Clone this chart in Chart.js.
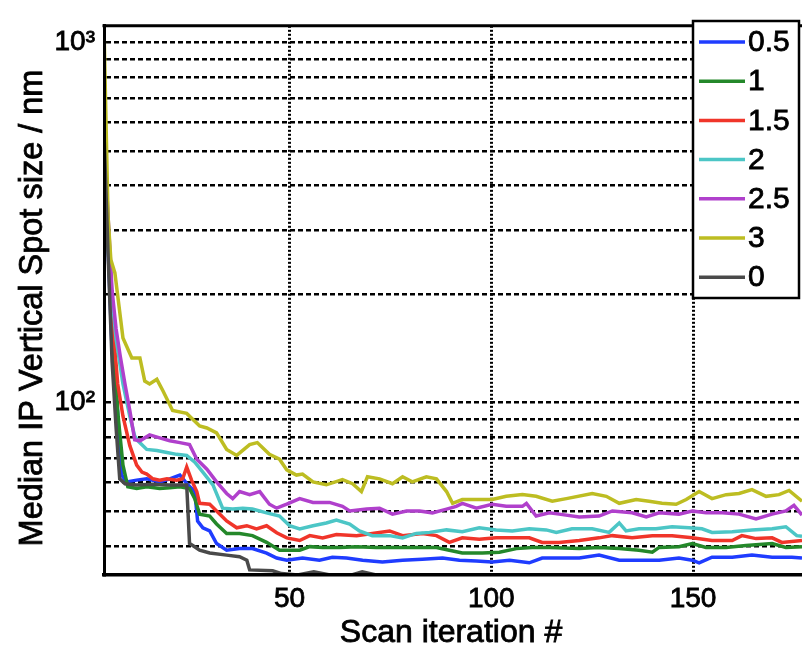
<!DOCTYPE html>
<html>
<head>
<meta charset="utf-8">
<script src="https://cdn.jsdelivr.net/npm/chart.js@4.4.1/dist/chart.umd.min.js"></script>
<style>
  html, body { margin: 0; padding: 0; background: #fff; }
  #wrap { width: 802px; height: 650px; position: relative; }
</style>
</head>
<body>
<div id="wrap"><canvas id="c" width="802" height="650"></canvas></div>
<script>
// ---- Data ----
const seriesLabels = ['0.5', '1', '1.5', '2', '2.5', '3', '0'];
const seriesColors = ['#1f3cff', '#24882a', '#f0352a', '#4cc6c6', '#b040cc', '#bdbd22', '#4a4a4a'];

const s05 = [[4,540],[5,270],[6,140],[7.2,100],[8.4,62.9],[9.6,60.2],[12.1,60.9],[14.6,61.4],[17.8,60.2],[20.3,61.4],[22.8,62.9],[24.8,59.1],[26.5,56.6],[27.2,46.9],[28.5,44.9],[30.2,44.0],[31.9,40.6],[34.4,38.9],[37.6,39.3],[40.8,39.3],[44.3,38.2],[46.8,37.0],[49.3,36.5],[53.2,37.0],[57.4,36.5],[60.6,37.2],[64.1,37.0],[68.1,36.5],[73,36.1],[78,36.5],[82.9,36.7],[87.9,37.0],[92.1,36.5],[96.3,36.3],[100.2,36.1],[104.5,36.5],[109.4,35.9],[112.6,37.0],[116.8,37.0],[121.8,37.0],[126.7,37.7],[131.7,36.5],[136.6,36.5],[141.6,36.5],[146.5,37.0],[149.8,36.5],[151.5,35.9],[154.7,37.2],[159.7,37.2],[164.6,37.7],[169.6,37.2],[174.5,37.2],[177,37.0]];

const s1 = [[4,540],[5,280],[6,155],[7,110],[7.5,91.6],[8.7,67],[9.9,58.4],[12.1,57.7],[14.6,58.4],[17.8,57.7],[20.3,58],[22.8,58.4],[25.2,57.7],[26.5,54.1],[27.7,49.0],[30.2,48.4],[31.9,46.0],[34.4,43.3],[37.6,43.3],[40.8,42.7],[44.3,40.9],[47.5,38.9],[50,38.9],[52.5,38.9],[55,39.8],[58.2,39.6],[62.4,39.6],[66.6,39.8],[71.5,39.6],[76.5,39.6],[81.4,39.6],[86.4,39.6],[89.6,38.9],[92.8,38.2],[97.8,38.2],[102,38.4],[106.2,39.3],[110.1,39.6],[114.4,39.6],[121.8,39.3],[126.7,39.6],[131.7,39.3],[136.6,38.9],[139.9,38.4],[141.6,39.6],[146.5,39.8],[149.8,40.6],[153.2,39.6],[158.2,39.6],[163.1,40.1],[169.6,40.6],[173,39.6],[177,39.8]];

const s15 = [[4,540],[5,300],[6,175],[7.4,112.6],[8.7,91.6],[10.4,75.9],[12.1,67],[13.4,64.1],[14.6,63.3],[16.1,61.4],[17.8,60.9],[19.6,61.4],[22,60.9],[23.5,61.4],[24.5,66.2],[25.7,60.9],[27,56.6],[27.7,52.5],[30.2,52.2],[31.9,50],[34.4,46.9],[36.9,44.9],[39.4,45.5],[41.8,44.6],[44.3,45.5],[46.8,43.5],[49.3,42.1],[52.5,41.4],[55,42.7],[58.2,42.1],[61.6,43.0],[66.6,42.7],[70.5,43.3],[74.8,44.0],[78,42.7],[82.9,43.3],[86.4,42.7],[89.6,40.9],[92.8,42.1],[97,41.7],[101.2,42.1],[106.2,42.1],[109.4,42.1],[112.6,40.9],[116.8,40.9],[121.8,41.4],[126.7,42.1],[130,42.7],[134.9,42.1],[139.9,42.7],[144.8,42.7],[149.8,42.1],[154.7,41.4],[159.7,41.4],[162.1,42.7],[165.6,41.9],[169.6,42.1],[172,40.9],[177,41.4]];

const s2 = [[4,550],[5,320],[6,195],[7,150],[8.7,112.6],[10.4,91.6],[11.6,80.8],[12.4,78.3],[14.6,74.1],[17.1,73.6],[19.6,72.7],[22,71.8],[24.5,71.3],[26.5,68.3],[28.5,64.1],[31,59.1],[33.4,50.9],[35.9,50.6],[38.4,50.9],[40.8,50.6],[44.3,49.4],[47.5,48.4],[50,45.5],[52.5,44.6],[55.8,45.5],[59.1,46.3],[61.6,47.2],[64.9,46.0],[67.3,44.0],[70.5,42.7],[74.8,42.7],[78,42.1],[81.4,43.3],[84.7,43.6],[88.9,44.3],[92.8,43.8],[97,44.9],[101.2,44.3],[105.2,44.0],[109.4,44.6],[113.6,44.3],[116.1,43.6],[120,44.6],[125,44.6],[129.2,43.6],[131.7,46.3],[133.4,44.0],[136.6,44.6],[140.8,44.6],[144.8,45.2],[149,44.9],[152.2,44.6],[154.7,43.6],[159.7,43.8],[164.6,44.3],[169.6,44.6],[173,45.2],[175.7,42.7],[177,42.5]];

const s25 = [[4,560],[5,330],[6,205],[7,160],[8,135],[9.2,112.6],[10.4,95],[11.6,78.8],[12.9,78.3],[15.3,81.3],[17.8,79.8],[20.3,78.3],[22.8,77.4],[25.2,76.4],[27,69.6],[29.5,65.3],[31.9,60.2],[34.4,55.9],[35.9,54.1],[37.6,56.6],[40.1,55.5],[42.6,56.6],[45,52.2],[46.8,50.9],[49.3,52.2],[52.5,54.1],[55.8,52.8],[59.9,52.8],[63.1,51.5],[64.9,50],[69.1,50.6],[72.3,50.9],[75.5,49.0],[79,50],[82.2,50],[85.4,49.4],[88.9,50.6],[91.3,51.5],[92.8,52.5],[96.3,50.9],[100.2,52.2],[103.7,51.5],[107.7,51.5],[108.7,52.5],[111.1,48.4],[114.4,49.4],[116.8,49],[121.8,48.1],[126.7,48.4],[130,50],[134.9,49.4],[138.4,48.1],[141.6,49.4],[146.5,49],[149.8,50],[153.2,49.4],[157.2,49.4],[161.4,49],[165.6,47.5],[169.6,49],[173,50],[175,51.8],[177,48.7]];

const s3 = [[4,1100],[5,330],[5.7,249],[6.7,229],[7.4,198],[8.7,151],[10.9,133],[12.9,133],[14.1,114.7],[15.3,112.6],[17.1,116],[18.6,107.8],[21,95],[24.5,93.3],[27.7,86.1],[29.5,85],[31.9,82.4],[34.4,74.1],[36.9,71.3],[40.1,76.4],[42,77.4],[45,71.8],[47.5,69.6],[49.3,65],[51.7,62.9],[53.2,63.3],[55.8,60.2],[59.1,59.1],[63.1,61.1],[65.6,59.5],[67.8,56.6],[69.3,62.2],[72.3,61.4],[75.5,59.5],[78,62.2],[80.4,60.2],[83.9,62.2],[86.4,61.4],[88.9,56.6],[90.4,52.5],[92.8,53.8],[96.3,53.8],[100.2,53.8],[103.7,54.9],[107.7,55.5],[111.1,54.9],[115.1,53.2],[118.6,54.1],[125,55.9],[128.5,54.9],[131.7,52.5],[135.9,53.8],[139.1,53.2],[142.3,52.5],[145.8,52.2],[148.3,53.8],[151.5,56.6],[154.7,54.1],[158.2,55.5],[161.4,55.9],[164.6,57.3],[168.1,54.9],[171.3,55.5],[173.8,57],[177,53.2]];

const s0 = [[4,560],[5,260],[6,130],[7,85],[7.9,61.4],[9.2,59.5],[12,59],[16,59.3],[20,59],[24.5,59],[25.2,40.6],[26,40.1],[27.7,38.9],[30.2,38.2],[34.4,37.7],[37.6,37.3],[39.4,36.5],[40.1,34.3],[45.8,34.1],[48,33.5],[52,33.2],[56,33.9],[60,33.2],[65,33.1],[68,33.9],[72,33.1],[80,33.0],[90,32.8],[100,32.7],[120,32.7],[150,32.7],[177,32.7]];

const seriesData = [s05, s1, s15, s2, s25, s3, s0];

const xTickValues = [50, 100, 150];
const yGridValues = [40, 50, 60, 70, 80, 90, 100, 200, 300, 400, 500, 600, 700, 800, 900, 1000];
const yTickLabels = { 100: '10²', 1000: '10³' };

const xTitle = 'Scan iteration #';
const yTitle = 'Median IP Vertical Spot size / nm';

// ---- Chart ----
const FONT = 'Liberation Sans, Arial, Helvetica, sans-serif';
const STROKE = 0.8;

const datasets = seriesData.map((pts, i) => ({
  label: seriesLabels[i],
  data: pts.map(p => ({ x: p[0], y: p[1] })),
  borderColor: seriesColors[i],
  backgroundColor: seriesColors[i],
  borderWidth: 3.5,
  pointRadius: 0,
  tension: 0,
  fill: false,
  order: seriesData.length - i
}));

function heavyText(ctx, text, x, y) {
  ctx.fillText(text, x, y);
  ctx.lineWidth = STROKE;
  ctx.strokeStyle = '#000';
  ctx.setLineDash([]);
  ctx.strokeText(text, x, y);
}

const overlay = {
  id: 'overlay',
  afterDatasetsDraw(chart) {
    const { ctx, chartArea: a } = chart;
    ctx.save();
    // top frame line
    ctx.strokeStyle = '#000';
    ctx.lineWidth = 3;
    ctx.setLineDash([]);
    ctx.beginPath();
    ctx.moveTo(a.left - 1.5, a.top);
    ctx.lineTo(a.right, a.top);
    ctx.stroke();

    // legend box
    const bx = 693, by = 21, bw = 106, bh = 277;
    ctx.fillStyle = '#fff';
    ctx.fillRect(bx, by, bw, bh);
    ctx.lineWidth = 2.5;
    ctx.strokeStyle = '#000';
    ctx.strokeRect(bx, by, bw, bh);
    ctx.font = '30px ' + FONT;
    ctx.textBaseline = 'middle';
    ctx.textAlign = 'left';
    chart.data.datasets.forEach((ds, i) => {
      const y = 42 + i * 39.2;
      ctx.strokeStyle = ds.borderColor;
      ctx.lineWidth = 3.5;
      ctx.beginPath();
      ctx.moveTo(699, y);
      ctx.lineTo(745, y);
      ctx.stroke();
      ctx.fillStyle = '#000';
      heavyText(ctx, ds.label, 748, y + 1);
    });

    // axis titles
    ctx.fillStyle = '#000';
    ctx.textAlign = 'center';
    ctx.textBaseline = 'middle';
    ctx.font = '32px ' + FONT;
    heavyText(ctx, xTitle, (a.left + a.right) / 2 - 2, 633);
    ctx.save();
    ctx.translate(33, 308);
    ctx.rotate(-Math.PI / 2);
    ctx.font = '32.5px ' + FONT;
    heavyText(ctx, yTitle, 0, 0);
    ctx.restore();
    ctx.restore();
  }
};

new Chart(document.getElementById('c'), {
  type: 'line',
  data: { datasets },
  options: {
    responsive: false,
    animation: false,
    events: [],
    layout: { padding: { top: 14, right: 0, left: 0, bottom: 0 } },
    plugins: { legend: { display: false }, tooltip: { enabled: false } },
    scales: {
      x: {
        type: 'linear',
        min: 4,
        max: 177,
        afterBuildTicks: (s) => { s.ticks = xTickValues.map(v => ({ value: v })); },
        afterFit: (s) => { s.height = 75; },
        grid: { color: '#000', lineWidth: 3, drawTicks: false },
        border: { display: true, color: '#000', width: 3.5, dash: [2, 2], z: 1 },
        ticks: {
          color: '#000',
          font: { family: FONT, size: 28 },
          textStrokeColor: '#000',
          textStrokeWidth: STROKE,
          padding: 7,
          autoSkip: false,
          maxRotation: 0,
          callback: (v) => String(v)
        },
        title: { display: false, text: xTitle }
      },
      y: {
        type: 'logarithmic',
        min: 33.2,
        max: 1112,
        afterBuildTicks: (s) => { s.ticks = yGridValues.map(v => ({ value: v })); },
        afterFit: (s) => { s.width = 104; },
        grid: { color: '#000', lineWidth: 2.5, drawTicks: false },
        border: { display: true, color: '#000', width: 3, dash: [5, 3], z: 1 },
        ticks: {
          color: '#000',
          font: { family: FONT, size: 28 },
          textStrokeColor: '#000',
          textStrokeWidth: STROKE,
          padding: 9,
          autoSkip: false,
          callback: (v) => yTickLabels[v] || ''
        },
        title: { display: false, text: yTitle }
      }
    }
  },
  plugins: [overlay]
});
</script>
</body>
</html>
